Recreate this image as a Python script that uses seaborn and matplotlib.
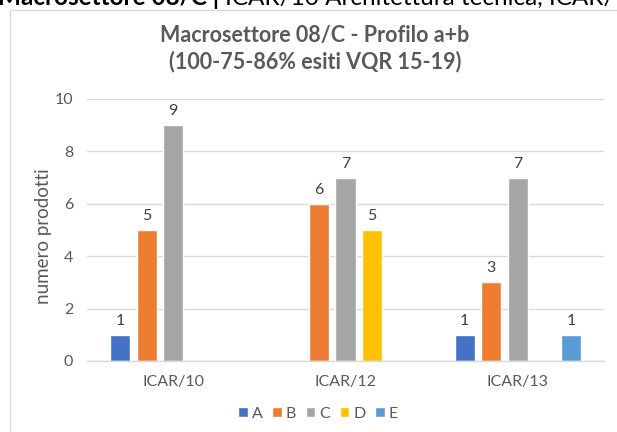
import matplotlib
matplotlib.use("Agg")
import matplotlib.pyplot as plt
import seaborn as sns
import pandas as pd
from matplotlib.patches import Rectangle

categories = ["ICAR/10", "ICAR/12", "ICAR/13"]
series = ["A", "B", "C", "D", "E"]
values_A = [1, None, 1]
values_B = [5, 6, 3]
values_C = [9, 7, 7]
values_D = [None, 5, None]
values_E = [None, None, 1]
colors = ["#4472C4", "#ED7D31", "#A5A5A5", "#FFC000", "#5B9BD5"]

rows = []
for s, vals in zip(series, [values_A, values_B, values_C, values_D, values_E]):
    for c, v in zip(categories, vals):
        if v is not None:
            rows.append({"cat": c, "serie": s, "val": v})
df = pd.DataFrame(rows)

sns.set_theme(style="white")
plt.rcParams["font.family"] = ["Lato", "DejaVu Sans"]

W, H = 617, 432
fig = plt.figure(figsize=(W/100, H/100), dpi=100)
ax = fig.add_axes([87/W, 1-361/H, (604-87)/W, (361-99)/H])

sns.barplot(data=df, x="cat", y="val", hue="serie", order=categories,
            hue_order=series, palette=colors, width=0.77, gap=0.245,
            dodge=True, ax=ax, saturation=1, legend=True, errorbar=None)

ax.set_ylim(0, 10)
ax.set_xlim(-0.5, 2.5)
ax.set_yticks([0, 2, 4, 6, 8, 10])
ax.yaxis.grid(True, color="#D9D9D9", linewidth=1)
ax.set_axisbelow(True)
for sp in ["top", "right", "left"]:
    ax.spines[sp].set_visible(False)
ax.spines["bottom"].set_color("#D9D9D9")
ax.spines["bottom"].set_linewidth(1)
ax.tick_params(axis="both", length=0, colors="#595959", labelsize=11.5)
ax.tick_params(axis="x", pad=10)
ax.tick_params(axis="y", pad=10)
ax.set_xlabel("")
ax.set_ylabel("")
fig.text(43/W, 1-236/H, "numero prodotti", rotation=90, ha="center", va="center",
         color="#595959", fontsize=13.5)

for cont in ax.containers:
    labels = [f"{int(b.get_height())}" if b.get_height() > 0 else "" for b in cont]
    ax.bar_label(cont, labels=labels, padding=5, color="#404040", fontsize=11.5)

ax.legend(loc="center", bbox_to_anchor=(318/W, 1-414/H), bbox_transform=fig.transFigure,
          ncol=5, frameon=False, fontsize=11.5, handlelength=0.6,
          handleheight=0.6, handletextpad=0.25, columnspacing=0.6,
          labelcolor="#595959")

fig.text(315/W, 1-42/H, "Macrosettore 08/C - Profilo a+b", ha="center", va="baseline",
         fontsize=15.5, fontweight="bold", color="#595959")
fig.text(315/W, 1-68/H, "(100-75-86% esiti VQR 15-19)", ha="center", va="baseline",
         fontsize=15.5, fontweight="bold", color="#595959")

# cut-off heading above the chart
t1 = fig.text(-0.003, 1-5/H, "Macrosettore 08/C | ", ha="left", va="baseline",
              fontsize=17.5, fontweight="bold", color="black")
fig.canvas.draw()
bb = t1.get_window_extent()
fig.text(bb.x1/W, 1-5/H, "ICAR/10 Architettura tecnica, ICAR/12 Tecnologia",
         ha="left", va="baseline", fontsize=17.5, color="black")

fig.patches.append(Rectangle((10/W, -0.1), 1.0, 1-10/H+0.1, transform=fig.transFigure,
                             fill=False, edgecolor="#D9D9D9", linewidth=1))

fig.savefig("out.png", dpi=100)
